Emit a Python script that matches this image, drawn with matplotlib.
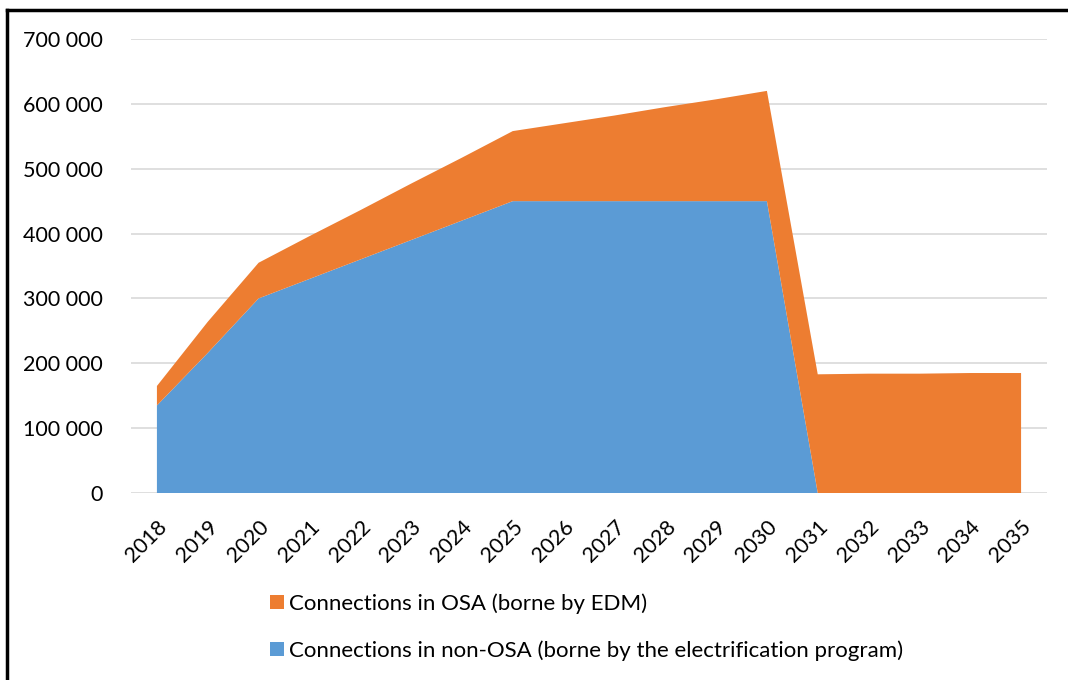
import matplotlib.pyplot as plt
from matplotlib.lines import Line2D
import numpy as np

# data
years = list(range(2018, 2036))
non_osa = [135000, 216000, 300000, 330000, 360000, 390000, 420000, 450000, 450000,
           450000, 450000, 450000, 450000, 0, 0, 0, 0, 0]
osa = [30000, 48000, 55000, 66000, 76000, 87000, 97000, 108000, 120000,
       132000, 145000, 157000, 170000, 183000, 184000, 184000, 185000, 185000]
labels = ["Connections in non-OSA (borne by the electrification program)",
          "Connections in OSA (borne by EDM)"]
yticks = [0, 100000, 200000, 300000, 400000, 500000, 600000, 700000]

blue = "#5B9BD5"
orange = "#ED7D31"

plt.rcParams['font.family'] = ['Lato', 'DejaVu Sans']

fig = plt.figure(figsize=(10.68, 6.8), dpi=100)
ax = fig.add_axes([131 / 1068, 1 - 493 / 680, 916 / 1068, 454 / 680])

polys = ax.stackplot(years, non_osa, osa, colors=[blue, orange], labels=labels,
                     linewidth=0)

ax.set_xlim(2017.49, 2035.51)
ax.set_ylim(0, 700000)
ax.set_yticks(yticks)
ax.set_yticklabels([f"{v:,}".replace(",", " ") for v in yticks], fontsize=15.5)
ax.set_xticks(years)
ax.set_xticklabels([str(y) for y in years], rotation=45, ha='right',
                   rotation_mode='anchor', fontsize=15.5)
ax.tick_params(axis='both', length=0)
ax.tick_params(axis='y', pad=20)
ax.tick_params(axis='x', pad=17)

ax.grid(axis='y', color='#d9d9d9', linewidth=1.2)
ax.set_axisbelow(True)
for s in ax.spines.values():
    s.set_visible(False)

# legend: OSA first, then non-OSA
fig.legend([polys[1], polys[0]], [labels[1], labels[0]],
           loc='upper left', bbox_to_anchor=(270 / 1068, 1 - 593 / 680),
           frameon=False, fontsize=16, handlelength=0.62, handleheight=0.62,
           handletextpad=0.25, labelspacing=1.2, borderpad=0, borderaxespad=0)

# border on top and left like the source frame
fig.add_artist(Line2D([7 / 1068, 7 / 1068], [0, 1 - 9.5 / 680],
                      transform=fig.transFigure, color='black', linewidth=2.5))
fig.add_artist(Line2D([7 / 1068, 1], [1 - 9.5 / 680, 1 - 9.5 / 680],
                      transform=fig.transFigure, color='black', linewidth=2.5))

fig.savefig("out.png", dpi=100)
